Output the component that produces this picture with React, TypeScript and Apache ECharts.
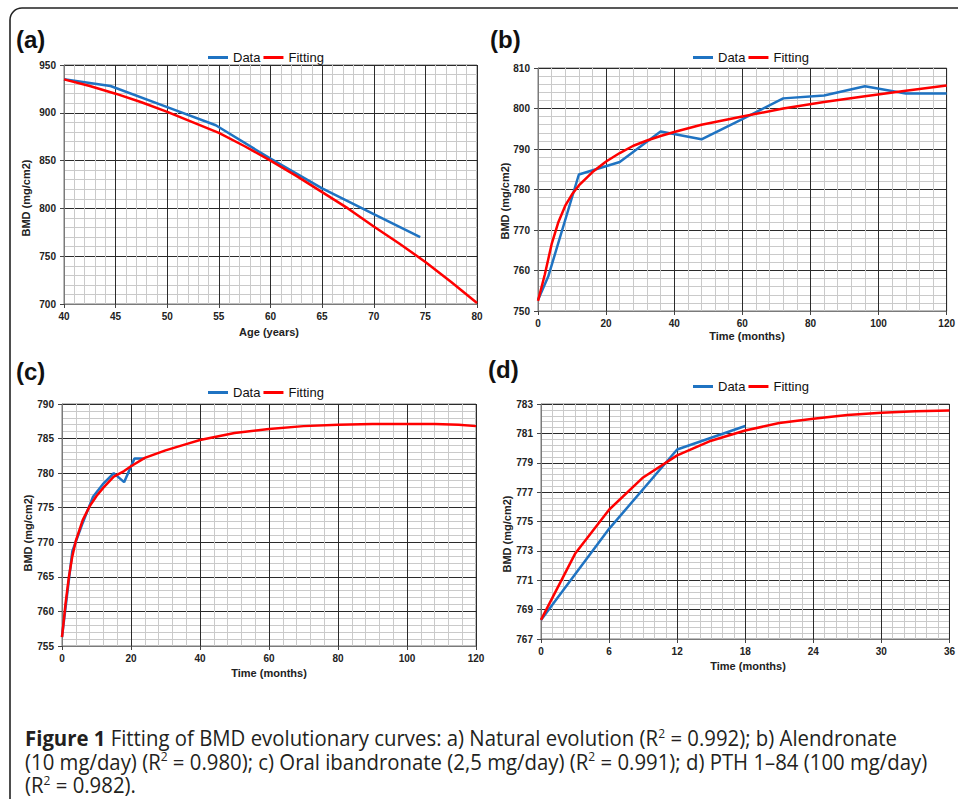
import React, { useEffect, useRef } from "react";
import * as echarts from "echarts";

// ---------- data ----------
// (a) Natural evolution
const A_AGE_DATA = [40, 44.5, 50, 54.7, 60, 65, 70, 74.5];
const A_BMD_DATA = [935, 928, 906, 887, 852, 821, 794, 770];
const A_AGE_FIT = [40, 42.5, 45, 47.5, 50, 52.5, 55, 57.5, 60, 62.5, 65, 67.5, 70, 72.5, 75, 77.5, 80];
const A_BMD_FIT = [935, 928, 920, 911, 901, 890, 879, 865, 850, 834, 817, 800, 781, 763, 744, 723, 701];

// (b) Alendronate
const B_T_DATA = [0, 3, 12, 24, 36, 48, 60, 72, 84, 96, 108, 120];
const B_BMD_DATA = [752.7, 758.5, 783.7, 786.8, 794.3, 792.4, 797.4, 802.5, 803.2, 805.5, 803.7, 803.7];
const B_T_FIT = [0, 2, 4, 6, 8, 10, 12, 16, 20, 24, 28, 32, 36, 40, 48, 60, 72, 84, 96, 108, 120];
const B_BMD_FIT = [752.5, 759, 766.5, 772, 776, 778.8, 781, 784.3, 786.9, 789, 790.8, 792.1, 793.2, 794.2, 796, 798, 800, 801.6, 803, 804.4, 805.7];

// (c) Oral ibandronate
const C_T_DATA = [0, 3, 6, 9, 12, 15, 18, 21, 24];
const C_BMD_DATA = [756.3, 768.7, 772.8, 776.6, 778.5, 780, 778.7, 782.1, 782.1];
const C_T_FIT = [0, 1, 2, 3, 4, 6, 8, 10, 12, 15, 18, 20, 24, 30, 36, 40, 50, 60, 70, 80, 90, 100, 108, 115, 120];
const C_BMD_FIT = [756.3, 761, 765, 768, 770.2, 773.2, 775.2, 776.7, 777.9, 779.5, 780.3, 781.0, 782.2, 783.3, 784.2, 784.8, 785.8, 786.4, 786.8, 787.0, 787.1, 787.1, 787.1, 787.0, 786.8];

// (d) PTH 1-84
const D_T_DATA = [0, 6, 12, 18];
const D_BMD_DATA = [768.3, 774.5, 779.9, 781.5];
const D_T_FIT = [0, 3, 6, 9, 12, 15, 18, 21, 24, 27, 30, 33, 36];
const D_BMD_FIT = [768.3, 772.8, 775.8, 778.0, 779.5, 780.5, 781.2, 781.7, 782.0, 782.25, 782.4, 782.5, 782.55];

// axis ranges / ticks
const A_X = { min: 40, max: 80, interval: 5, minor: 5 };
const A_Y = { min: 700, max: 950, interval: 50, minor: 5 };
const B_X = { min: 0, max: 120, interval: 20, minor: 5 };
const B_Y = { min: 750, max: 810, interval: 10, minor: 5 };
const C_X = { min: 0, max: 120, interval: 20, minor: 5 };
const C_Y = { min: 755, max: 790, interval: 5, minor: 5 };
const D_X = { min: 0, max: 36, interval: 6, minor: 6 };
const D_Y = { min: 767, max: 783, interval: 2, minor: 5 };

const LEGEND_NAMES = ["Data", "Fitting"];
const PANEL_LABELS = ["(a)", "(b)", "(c)", "(d)"];
const X_TITLES = ["Age (years)", "Time (months)", "Time (months)", "Time (months)"];
const Y_TITLE = "BMD (mg/cm2)";

const CAPTION_1 = "{b|Figure 1} Fitting of BMD evolutionary curves: a) Natural evolution (R{sup|2} = 0.992); b) Alendronate";
const CAPTION_2 = "(10 mg/day) (R{sup|2} = 0.980); c) Oral ibandronate (2,5 mg/day) (R{sup|2} = 0.991); d) PTH 1\u201384 (100 mg/day)";
const CAPTION_3 = "(R{sup|2} = 0.982).";

const zip = (xs: number[], ys: number[]) => xs.map((x, i) => [x, ys[i]]);

const FONT = "'Liberation Sans', Arial, Helvetica, sans-serif";
const CAP_FONT = "'Open Sans', 'Noto Sans', sans-serif";
const BLUE = "#1f73c2";
const RED = "#ff0000";

const GRIDS = [
  { left: 64, top: 65, width: 413, height: 239 },
  { left: 538, top: 68, width: 417, height: 243 },
  { left: 62, top: 404, width: 414, height: 242 },
  { left: 541, top: 404, width: 412, height: 235 },
];

function axisBase(gridIndex: number, r: { min: number; max: number; interval: number; minor: number }, isX: boolean) {
  return {
    type: "value",
    gridIndex,
    min: r.min,
    max: r.max,
    interval: r.interval,
    axisLine: { show: true, onZero: false, lineStyle: { color: "#7a7a7a", width: 1 } },
    axisTick: { show: true, length: 4, lineStyle: { color: "#444" } },
    axisLabel: {
      color: "#222",
      fontFamily: FONT,
      fontSize: 10,
      fontWeight: "bold",
      margin: isX ? 7 : 8,
      showMinLabel: true,
      showMaxLabel: true,
      hideOverlap: false,
    },
    splitLine: { show: true, lineStyle: { color: "#2b2b2b", width: 1 } },
    minorTick: { show: false, splitNumber: r.minor },
    minorSplitLine: { show: true, lineStyle: { color: "#cacaca", width: 1 } },
  };
}

export default function App() {
  const ref = useRef<HTMLDivElement>(null);
  useEffect(() => {
    document.body.style.margin = "0";
    if (!ref.current) return;
    const chart = echarts.init(ref.current, undefined, { renderer: "svg" });

    const lineSeries = (name: string, color: string, xi: number, yi: number, data: number[][]) => ({
      name,
      type: "line",
      xAxisIndex: xi,
      yAxisIndex: yi,
      data,
      symbol: "none",
      showSymbol: false,
      lineStyle: { color, width: 2.5 },
      itemStyle: { color },
      z: name === "Fitting" ? 3 : 2,
    });

    const dYVisible = {
      ...axisBase(3, { min: 0, max: D_Y.max - D_Y.min, interval: D_Y.interval, minor: D_Y.minor }, false),
      position: "left",
      axisLabel: {
        ...axisBase(3, D_Y, false).axisLabel,
        formatter: (v: number) => String(v + D_Y.min),
      },
    };
    const dYData = { type: "value", gridIndex: 3, min: D_Y.min, max: D_Y.max, show: false, position: "left" };

    const legendPos = [
      { left: 208, top: 51 },
      { left: 693, top: 51 },
      { left: 208, top: 386 },
      { left: 693, top: 380 },
    ];

    const yTitlePos = [
      [26, 198],
      [505, 201],
      [28, 533],
      [507, 534],
    ];
    const xTitlePos = [
      [269, 332],
      [747, 336],
      [269, 673],
      [748, 666],
    ];
    const labelPos = [
      [16, 39],
      [490, 39],
      [16, 371],
      [488, 369],
    ];

    const graphics: any[] = [
      {
        type: "rect",
        shape: { x: 10, y: 8, width: 1000, height: 900, r: 12 },
        style: { fill: "none", stroke: "#222", lineWidth: 1.6 },
        silent: true,
      },
    ];
    PANEL_LABELS.forEach((t, i) => {
      graphics.push({
        type: "text",
        x: labelPos[i][0],
        y: labelPos[i][1],
        style: { text: t, font: `bold 24px ${FONT}`, fill: "#111", align: "left", verticalAlign: "middle" },
      });
      graphics.push({
        type: "text",
        x: yTitlePos[i][0],
        y: yTitlePos[i][1],
        rotation: Math.PI / 2,
        style: { text: Y_TITLE, font: `bold 11px ${FONT}`, fill: "#222", align: "center", verticalAlign: "middle" },
      });
      graphics.push({
        type: "text",
        x: xTitlePos[i][0],
        y: xTitlePos[i][1],
        style: { text: X_TITLES[i], font: `bold 11px ${FONT}`, fill: "#222", align: "center", verticalAlign: "middle" },
      });
    });
    const capRich = {
      b: { fontWeight: "bold", fontSize: 22, fontFamily: CAP_FONT, fill: "#231f20" },
      sup: { fontSize: 13, fontFamily: CAP_FONT, verticalAlign: "top", fill: "#231f20" },
    };
    [CAPTION_1, CAPTION_2, CAPTION_3].forEach((t, i) => {
      graphics.push({
        type: "text",
        x: 25,
        y: 737.5 + i * 23.5,
        scaleX: 0.925,
        style: {
          text: t,
          fontFamily: CAP_FONT,
          fontSize: 22,
          fill: "#231f20",
          align: "left",
          verticalAlign: "middle",
          rich: capRich,
        },
      });
    });

    chart.setOption({
      animation: false,
      backgroundColor: "#ffffff",
      grid: GRIDS.map((g) => ({
        ...g,
        show: true,
        borderColor: "#7a7a7a",
        borderWidth: 1,
        backgroundColor: "#ffffff",
        containLabel: false,
      })),
      legend: legendPos.map((p) => ({
        ...p,
        data: LEGEND_NAMES,
        orient: "horizontal",
        icon: "rect",
        itemWidth: 20,
        itemHeight: 3,
        itemGap: 3,
        padding: 0,
        selectedMode: false,
        textStyle: { fontFamily: FONT, fontSize: 13, color: "#111" },
      })),
      xAxis: [
        axisBase(0, A_X, true),
        axisBase(1, B_X, true),
        axisBase(2, C_X, true),
        axisBase(3, D_X, true),
      ],
      yAxis: [
        axisBase(0, A_Y, false),
        axisBase(1, B_Y, false),
        axisBase(2, C_Y, false),
        dYVisible,
        dYData,
      ],
      series: [
        lineSeries("Data", BLUE, 0, 0, zip(A_AGE_DATA, A_BMD_DATA)),
        lineSeries("Fitting", RED, 0, 0, zip(A_AGE_FIT, A_BMD_FIT)),
        lineSeries("Data", BLUE, 1, 1, zip(B_T_DATA, B_BMD_DATA)),
        lineSeries("Fitting", RED, 1, 1, zip(B_T_FIT, B_BMD_FIT)),
        lineSeries("Data", BLUE, 2, 2, zip(C_T_DATA, C_BMD_DATA)),
        lineSeries("Fitting", RED, 2, 2, zip(C_T_FIT, C_BMD_FIT)),
        lineSeries("Data", BLUE, 3, 4, zip(D_T_DATA, D_BMD_DATA)),
        lineSeries("Fitting", RED, 3, 4, zip(D_T_FIT, D_BMD_FIT)),
      ],
      graphic: graphics,
    });
    return () => chart.dispose();
  }, []);
  return <div ref={ref} style={{ width: 958, height: 799 }} />;
}
